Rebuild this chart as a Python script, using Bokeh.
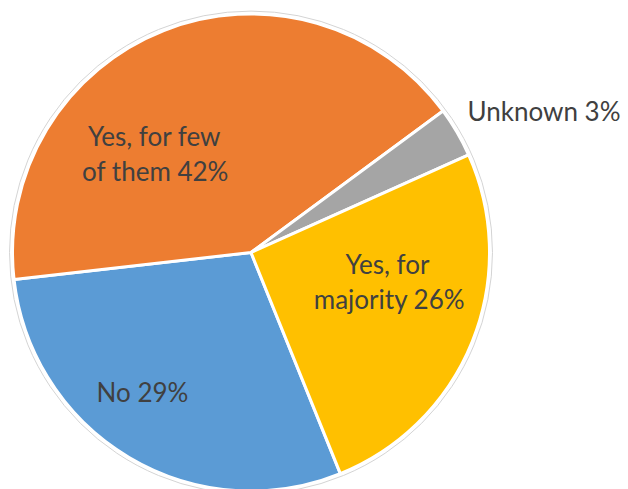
import math
from bokeh.plotting import figure
from bokeh.models import ColumnDataSource, Range1d
from bokeh.core.properties import value
from bokeh.embed import file_html
from bokeh.resources import INLINE

# ---- data ----
categories = ["No", "Yes, for few of them", "Unknown", "Yes, for majority"]
shares = [29.3, 41.7, 3.4, 25.6]
colors = ["#5B9BD5", "#ED7D31", "#A5A5A5", "#FFC000"]
label_lines = [["No {}%"], ["Yes, for few", "of them {}%"], ["Unknown {}%"], ["Yes, for", "majority {}%"]]

# ---- layout ----
W, H = 628, 489
cx, cy = 250.5, H - 252
R = 238.5
first_angle = 158.0  # degrees clockwise from 12 o'clock
# label anchor (pixel x, pixel baseline y per line, align)
label_pos = [
    [(142, 391)],
    [(154, 135), (155, 170)],
    [(467, 110)],
    [(387, 263), (389, 298)],
]
label_align = ["center", "center", "left", "center"]

total = sum(shares)
starts, ends = [], []
cum = first_angle
for s in shares:
    a0 = cum
    a1 = cum + s / total * 360.0
    starts.append(math.radians(90 - a0))
    ends.append(math.radians(90 - a1))
    cum = a1

src = ColumnDataSource(dict(cat=categories, start=starts, end=ends, color=colors))

p = figure(width=W, height=H, x_range=Range1d(0, W), y_range=Range1d(0, H),
           output_backend="svg", toolbar_location=None, min_border=0)
p.axis.visible = False
p.grid.visible = False
p.outline_line_color = None
p.background_fill_color = "white"
p.border_fill_color = "white"

p.circle(x=[cx], y=[cy], radius=R + 3, fill_color=None, line_color="#d4d4d4", line_width=1)
p.wedge(x=cx, y=cy, radius=R, start_angle="start", end_angle="end", direction="clock",
        fill_color="color", line_color="white", line_width=3, source=src)

xs, ys, texts, aligns = [], [], [], []
for i, lines in enumerate(label_lines):
    pct = int(round(shares[i] / total * 100))
    for j, ln in enumerate(lines):
        txt = ln.format(pct) if "{}" in ln else ln
        px, py = label_pos[i][j]
        xs.append(px)
        ys.append(H - py)
        texts.append(txt)
        aligns.append(label_align[i])

tsrc = ColumnDataSource(dict(x=xs, y=ys, text=texts, align=aligns))
p.text(x="x", y="y", text="text", text_align="align", text_baseline="alphabetic",
       text_font=value("Lato"), text_font_size="26px", text_color="#404040", source=tsrc)

open("out.html", "w").write(file_html(p, INLINE))
